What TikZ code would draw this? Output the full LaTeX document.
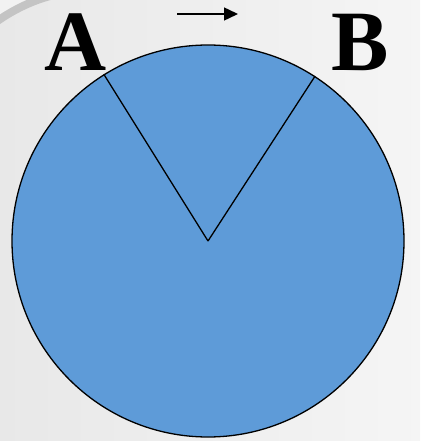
\documentclass[tikz,border=0pt]{standalone}
\usepackage{fontspec}
\setmainfont{Liberation Serif}
\usetikzlibrary{arrows.meta,positioning}
\definecolor{pgblue}{HTML}{5E9BD8}
\definecolor{pgback}{HTML}{EEEEEE}
\definecolor{pgband}{HTML}{C4C4C4}
\tikzset{
  disk/.style={circle, draw=black, fill=pgblue, line width=1.3pt,
               minimum size=392pt, inner sep=0pt},
  radius line/.style={draw=black, line width=1.3pt},
  lbl/.style={font=\fontsize{86}{86}\selectfont\bfseries, inner sep=0pt, anchor=base},
  ar/.style={-{Triangle[length=14pt,width=13pt]}, draw=black, line width=1.4pt},
}
\begin{document}
\begin{tikzpicture}[x=1pt,y=-1pt]

% ---------- page ----------
\useasboundingbox (0,0) rectangle (420,441);
\shade[left color=gray!18, right color=gray!8] (0,0) rectangle (420,441);
\fill[white!90!gray] (0,0) -- (0,14) .. controls (12,8) and (25,2) .. (40,0) -- cycle;
\draw[pgband, line width=8pt] (-4,22) .. controls (10,12) and (28,2) .. (50,-4);

% ---------- disk ----------
\node[disk] (wheel) at (208,241) {};
\coordinate (ctr) at (wheel.center);
\draw[radius line] (ctr) -- (wheel.122.5);
\draw[radius line] (ctr) -- (wheel.57.5);

% ---------- labels ----------
\node[lbl] (labA) at (76,71) {A};
\node[lbl] (labB) at (360,71) {B};

% ---------- direction ----------
\coordinate (arrL) at (177,14);
\coordinate (arrR) at (238,14);
\draw[ar] (arrL) -- (arrR);
\end{tikzpicture}
\end{document}
